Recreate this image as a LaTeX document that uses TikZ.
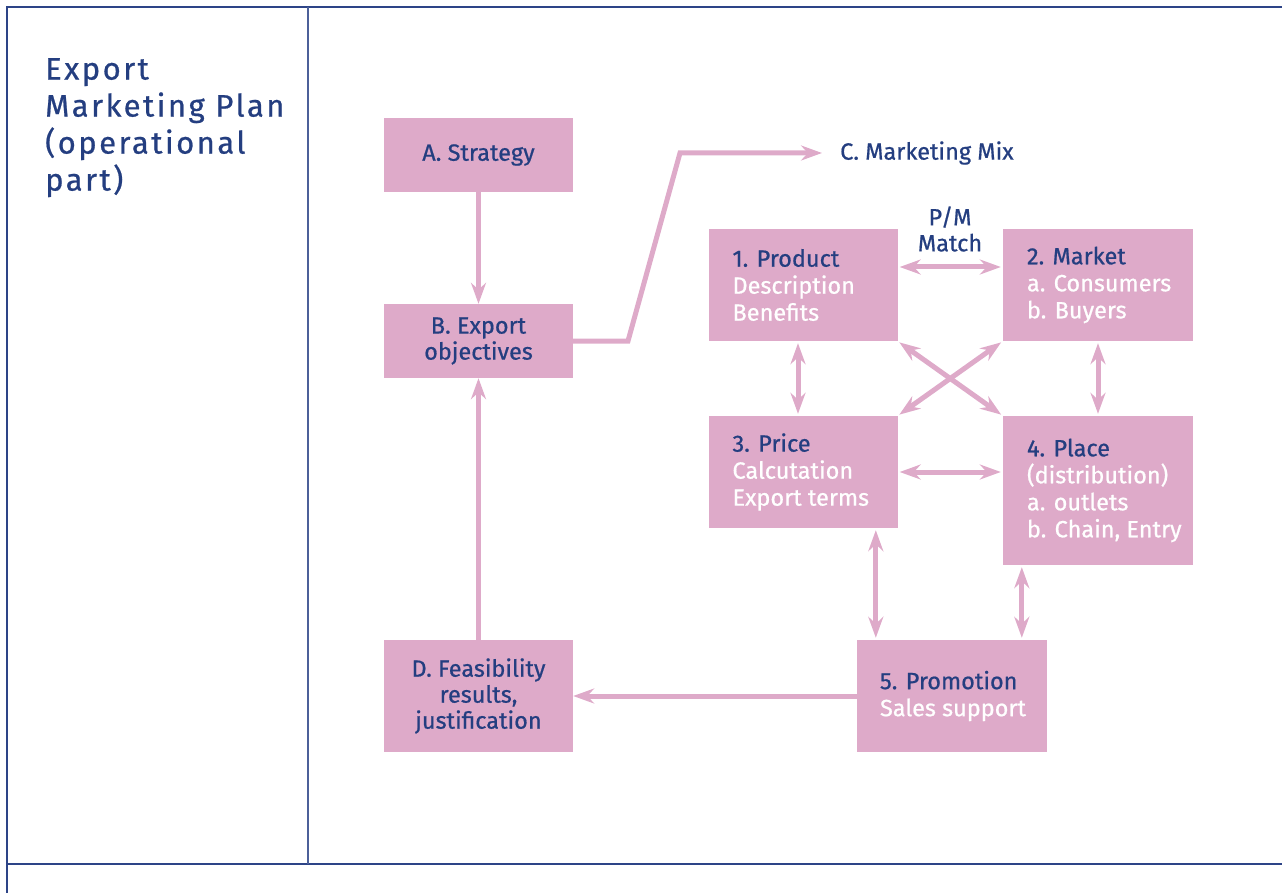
\documentclass[tikz,border=0pt]{standalone}
\usepackage{fontspec}
\setmainfont{Fira Sans}[FakeBold=0.7]
\usepackage{xcolor}
\usetikzlibrary{arrows.meta,positioning}
\definecolor{mixpink}{RGB}{222,170,201}
\definecolor{plannavy}{RGB}{36,62,128}
\definecolor{framenavy}{RGB}{45,68,135}
\newcommand{\lite}[1]{\textcolor{white}{#1}}
\tikzset{%
  tipS/.tip={Stealth[length=21pt,width=15pt,inset=7pt]},
  box/.style={fill=mixpink, inner sep=0pt, minimum width=189pt},
  midbox/.style={box, text=plannavy, align=center, font=\fontsize{23.5}{26}\selectfont},
  boxtext/.style={text=plannavy, align=left, anchor=west, inner sep=0pt, font=\fontsize{23.5}{27}\selectfont},
  flow/.style={draw=mixpink, line width=5pt, -tipS},
  twoway/.style={draw=mixpink, line width=5pt, tipS-tipS, shorten >=2pt, shorten <=2pt}
}

\begin{document}
\begin{tikzpicture}[x=1pt,y=-1pt]
	\useasboundingbox (0,0) rectangle (1282,893);
	% frame
	\draw[framenavy, line width=2.5pt] (7,893) -- (7,7) -- (1282,7);
	\draw[framenavy, line width=2.5pt] (7,864) -- (1282,864);
	\draw[framenavy!85, line width=1.5pt] (308,7) -- (308,864);
	\node[anchor=north west, align=left, inner sep=0pt, text=plannavy, font=\fontsize{31}{37}\selectfont\addfontfeatures{LetterSpace=8}] (title) at (45,58) {Export\\Marketing Plan\\(operational\\part)};
	% left column
	\node[midbox, minimum height=74pt] (strat) at (478.5,155) {A. Strategy};
	\node[midbox, minimum height=74pt] (obj) at (478.5,341) {B. Export\\objectives};
	\node[midbox, minimum height=112pt] (feas) at (478.5,696) {D. Feasibility\\results,\\justification};
	\node[anchor=west, inner xsep=18pt, inner ysep=0pt, text=plannavy, font=\fontsize{23.5}{26}\selectfont] (mix) at (822,153) {C. Marketing Mix};
	% the four P's and promotion
	\node[box, minimum height=112pt] (p1) at (803,285) {};
	\node[box, minimum height=112pt, minimum width=190pt] (p2) at (1098,285) {};
	\node[box, minimum height=112pt] (p3) at (803,472) {};
	\node[box, minimum height=149pt, minimum width=190pt] (p4) at (1098,490.5) {};
	\node[box, minimum height=112pt, minimum width=190pt] (p5) at (952,696) {};
	\node[boxtext] (p1t) at ([xshift=24pt]p1.west) {1. Product\\\lite{Description}\\\lite{Benefits}};
	\node[boxtext] (p2t) at ([xshift=24pt]p2.west) {2. Market\\\lite{a. Consumers}\\\lite{b. Buyers}};
	\node[boxtext] (p3t) at ([xshift=24pt]p3.west) {3. Price\\\lite{Calcutation}\\\lite{Export terms}};
	\node[boxtext] (p4t) at ([xshift=24pt]p4.west) {4. Place\\\lite{(distribution)}\\\lite{a. outlets}\\\lite{b. Chain, Entry}};
	\node[boxtext] (p5t) at ([xshift=23pt]p5.west) {5. Promotion\\\lite{Sales support}};
	\node[align=center, inner sep=0pt, text=plannavy, font=\fontsize{23.5}{26}\selectfont] (pm) at (950,229) {P/M\\Match};
	% connectors
	\draw[flow] (strat) -- (obj);
	\draw[flow] (feas) -- (obj);
	\draw[flow] (p5) -- (feas);
	\draw[flow] (obj.east) -- (628,341) -- (680,153) -- (mix.west);
	\draw[twoway] ([yshift=18pt]p1.east) -- ([yshift=18pt]p2.west);
	\draw[twoway] (p3.east) -- (p3.east -| p4.west);
	\draw[twoway] ([xshift=-5pt]p1.south) -- ([xshift=-5pt]p3.north);
	\draw[twoway] (p2.south) -- (p4.north);
	\draw[twoway] (p1.south east) -- (p4.north west);
	\draw[twoway] (p2.south west) -- (p3.north east);
	\coordinate (c35) at ([xshift=19pt]p5.north west);
	\coordinate (c45) at ([xshift=19pt]p4.south west);
	\draw[twoway] (p3.south -| c35) -- (c35);
	\draw[twoway] (c45) -- (c45 |- p5.north);
\end{tikzpicture}
\end{document}
